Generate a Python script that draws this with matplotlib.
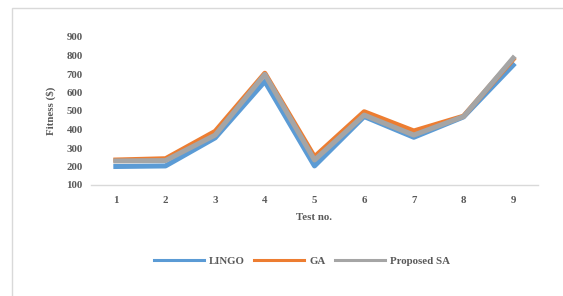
import matplotlib.pyplot as plt
from matplotlib.patches import Rectangle

tests = ["1", "2", "3", "4", "5", "6", "7", "8", "9"]
lingo = [200, 203, 355, 660, 203, 470, 358, 468, 748]
ga = [235, 242, 390, 704, 252, 496, 392, 472, 780]
sa = [230, 232, 370, 698, 235, 478, 370, 470, 786]

plt.rcParams['font.family'] = ['Liberation Serif', 'DejaVu Serif']
W, H = 563, 296
fig = plt.figure(figsize=(W / 100, H / 100), dpi=100)

# chart frame
fig.patches.append(Rectangle((12 / W, -0.01), (W - 12) / W + 0.01, (H - 8) / H + 0.01,
                             transform=fig.transFigure, fill=False,
                             edgecolor='#D9D9D9', linewidth=1.0))

ax = fig.add_axes([91 / W, (H - 185) / H, (538 - 91) / W, (185 - 37) / H])
x = list(range(len(tests)))
tc = '#595959'
fs = 7.8
ax.plot(x, lingo, color='#5B9BD5', lw=3.6, solid_joinstyle='round', label='LINGO')
ax.plot(x, ga, color='#ED7D31', lw=3.6, solid_joinstyle='round', label='GA')
ax.plot(x, sa, color='#A5A5A5', lw=3.6, solid_joinstyle='round', label='Proposed SA')

ax.set_xlim(-0.5, len(tests) - 0.5)
ax.set_ylim(100, 900)
ax.set_yticks(range(100, 901, 100))
ax.set_xticks(x)
ax.set_xticklabels(tests)
for s in ['top', 'right', 'left']:
    ax.spines[s].set_visible(False)
ax.spines['bottom'].set_color('#D9D9D9')
ax.spines['bottom'].set_linewidth(1.0)
ax.tick_params(length=0, labelsize=fs, colors=tc, pad=8)
ax.tick_params(axis='y', pad=6)
for lab in ax.get_xticklabels() + ax.get_yticklabels():
    lab.set_fontweight('bold')

fig.text(51 / W, 1 - 111 / H, 'Fitness ($)', rotation=90, ha='center', va='center',
         fontsize=fs, fontweight='bold', color=tc)
fig.text(314 / W, 1 - 218 / H, 'Test no.', ha='center', va='center',
         fontsize=fs, fontweight='bold', color=tc)

leg = fig.legend(loc='center', bbox_to_anchor=(302 / W, 1 - 261 / H), ncol=3,
                 frameon=False, fontsize=fs, handlelength=4.6, columnspacing=0.9,
                 handletextpad=0.45)
for t in leg.get_texts():
    t.set_fontweight('bold')
    t.set_color(tc)
for l in leg.get_lines():
    l.set_linewidth(2.2)

fig.savefig('out.png', dpi=100)
